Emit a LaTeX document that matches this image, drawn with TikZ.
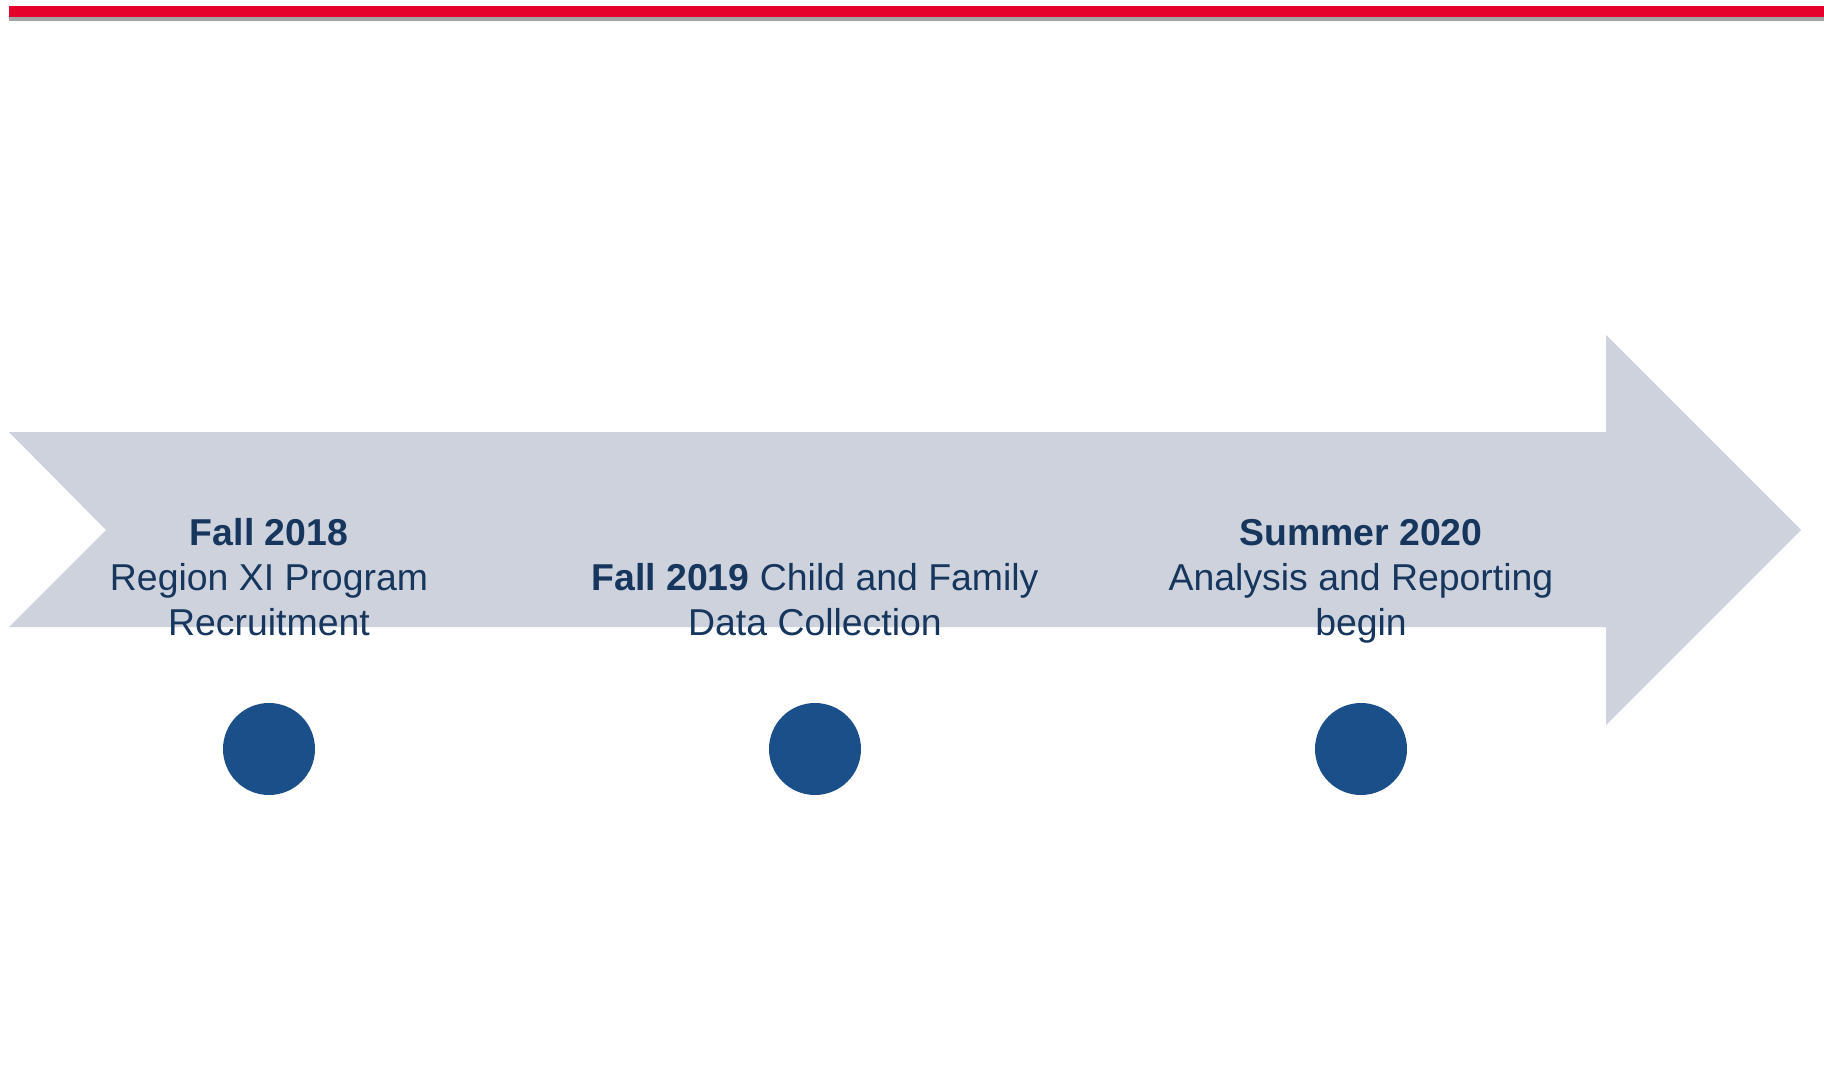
\documentclass[tikz,border=0pt]{standalone}
\usepackage{fontspec}
\setmainfont{Liberation Sans}
\definecolor{txtblue}{HTML}{17365D}
\definecolor{arrowgray}{HTML}{CDD2DD}
\definecolor{dotblue}{HTML}{1B4F8A}
\definecolor{topred}{HTML}{E4002B}
\definecolor{topgray}{HTML}{A3A3A6}
\begin{document}
\begin{tikzpicture}[x=1pt,y=-1pt,
  label/.style={text=txtblue, align=center, anchor=base, inner sep=0pt,
    font=\fontsize{37.4}{45}\selectfont},
  dot/.style={circle, fill=dotblue, minimum size=92pt, inner sep=0pt}]
\useasboundingbox (0,0) rectangle (1824,1067);
\fill[white] (0,0) rectangle (1824,1067);
% top rule
\fill[topred] (9,6) rectangle (1824,17);
\fill[topgray] (9,17) rectangle (1824,21);
% timeline arrow
\fill[arrowgray] (9,432) -- (1606,432) -- (1606,335) -- (1801,530)
  -- (1606,725) -- (1606,627) -- (9,627) -- (106,530) -- cycle;
% milestones (base anchor = baseline of last line)
\node[label] (t1) at (269,635) {\textbf{Fall 2018}\\Region XI Program\\Recruitment};
\node[label] (t2) at (815,635) {\textbf{Fall 2019} Child and Family\\Data Collection};
\node[label] (t3) at (1361,635) {\textbf{Summer 2020}\\Analysis and Reporting\\begin};
\node[dot] (d1) at (269,749) {};
\node[dot] (d2) at (815,749) {};
\node[dot] (d3) at (1361,749) {};
\end{tikzpicture}
\end{document}
